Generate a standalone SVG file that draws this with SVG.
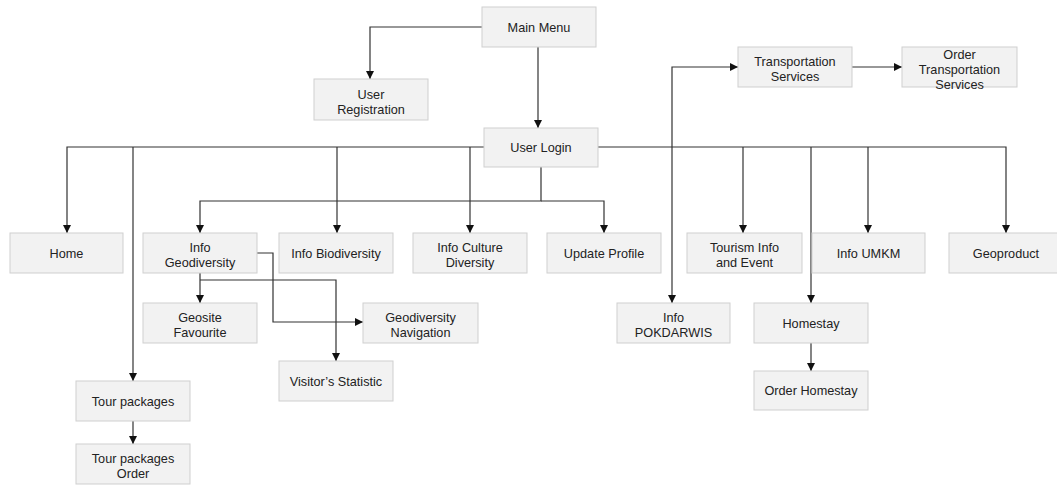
<svg xmlns="http://www.w3.org/2000/svg" width="1057" height="485" viewBox="0 0 1057 485">
<style>
.box{fill:#f2f2f2;stroke:#cfcfcf;stroke-width:1}
.t{font-family:"Liberation Sans",Arial,sans-serif;font-size:12.7px;fill:#222;text-anchor:middle}
.c{fill:none;stroke:#333;stroke-width:1.2}
</style>
<defs>
<marker id="ah" viewBox="0 0 10 10" refX="10" refY="5" markerWidth="8" markerHeight="8" markerUnits="userSpaceOnUse" orient="auto">
<path d="M0,0 L10,5 L0,10 z" fill="#111"/>
</marker>
</defs>
<rect width="1057" height="485" fill="#fff"/>
<g id="connectors">
<path class="c" d="M482,27 H370 V79" marker-end="url(#ah)"/>
<path class="c" d="M538,47 V128" marker-end="url(#ah)"/>
<path class="c" d="M484,147 H67 V233" marker-end="url(#ah)"/>
<path class="c" d="M133,147 V381" marker-end="url(#ah)"/>
<path class="c" d="M337,147 V233" marker-end="url(#ah)"/>
<path class="c" d="M470,147 V233" marker-end="url(#ah)"/>
<path class="c" d="M598,147 H1006 V233" marker-end="url(#ah)"/>
<path class="c" d="M672,147 V303" marker-end="url(#ah)"/>
<path class="c" d="M743,147 V233" marker-end="url(#ah)"/>
<path class="c" d="M811,147 V303" marker-end="url(#ah)"/>
<path class="c" d="M868,147 V233" marker-end="url(#ah)"/>
<path class="c" d="M541,167 V201 H200 V233" marker-end="url(#ah)"/>
<path class="c" d="M541,201 H604 V233" marker-end="url(#ah)"/>
<path class="c" d="M200,273 V303" marker-end="url(#ah)"/>
<path class="c" d="M200,280 H336 V361" marker-end="url(#ah)"/>
<path class="c" d="M257,253 H273 V322 H363" marker-end="url(#ah)"/>
<path class="c" d="M133,421 V444" marker-end="url(#ah)"/>
<path class="c" d="M811,343 V371" marker-end="url(#ah)"/>
<path class="c" d="M672,147 V67 H738" marker-end="url(#ah)"/>
<path class="c" d="M852,67 H902" marker-end="url(#ah)"/>
</g>
<g id="main-menu"><rect class="box" x="482" y="7" width="114" height="40"/><text class="t" x="539" y="31.5">Main Menu</text></g>
<g id="user-registration"><rect class="box" x="314" y="79" width="114" height="41"/><text class="t" x="371" y="98.5">User</text><text class="t" x="371" y="113.5">Registration</text></g>
<g id="user-login"><rect class="box" x="484" y="128" width="114" height="39"/><text class="t" x="541" y="152">User Login</text></g>
<g id="home"><rect class="box" x="10" y="233" width="113" height="40"/><text class="t" x="66.5" y="257.5">Home</text></g>
<g id="info-geodiversity"><rect class="box" x="143" y="233" width="114" height="40"/><text class="t" x="200" y="251.5">Info</text><text class="t" x="200" y="266.5">Geodiversity</text></g>
<g id="info-biodiversity"><rect class="box" x="279" y="233" width="114" height="40"/><text class="t" x="336" y="257.5">Info Biodiversity</text></g>
<g id="info-culture"><rect class="box" x="413" y="233" width="114" height="40"/><text class="t" x="470" y="251.5">Info Culture</text><text class="t" x="470" y="266.5">Diversity</text></g>
<g id="update-profile"><rect class="box" x="547" y="233" width="114" height="40"/><text class="t" x="604" y="257.5">Update Profile</text></g>
<g id="tourism-info"><rect class="box" x="687" y="233" width="115" height="40"/><text class="t" x="744.5" y="251.5">Tourism Info</text><text class="t" x="744.5" y="266.5">and Event</text></g>
<g id="info-umkm"><rect class="box" x="812" y="233" width="113" height="40"/><text class="t" x="868.5" y="257.5">Info UMKM</text></g>
<g id="geoproduct"><rect class="box" x="949" y="233" width="114" height="40"/><text class="t" x="1006" y="257.5">Geoproduct</text></g>
<g id="geosite-favourite"><rect class="box" x="143" y="303" width="114" height="40"/><text class="t" x="200" y="321.5">Geosite</text><text class="t" x="200" y="336.5">Favourite</text></g>
<g id="geodiversity-navigation"><rect class="box" x="363" y="303" width="115" height="40"/><text class="t" x="420.5" y="321.5">Geodiversity</text><text class="t" x="420.5" y="336.5">Navigation</text></g>
<g id="visitors-statistic"><rect class="box" x="279" y="361" width="114" height="40"/><text class="t" x="336" y="385.5">Visitor’s Statistic</text></g>
<g id="tour-packages"><rect class="box" x="76" y="381" width="114" height="40"/><text class="t" x="133" y="405.5">Tour packages</text></g>
<g id="tour-packages-order"><rect class="box" x="76" y="444" width="114" height="40"/><text class="t" x="133" y="462.5">Tour packages</text><text class="t" x="133" y="477.5">Order</text></g>
<g id="info-pokdarwis"><rect class="box" x="617" y="303" width="113" height="40"/><text class="t" x="673.5" y="321.5">Info</text><text class="t" x="673.5" y="336.5">POKDARWIS</text></g>
<g id="homestay"><rect class="box" x="754" y="303" width="114" height="40"/><text class="t" x="811" y="327.5">Homestay</text></g>
<g id="order-homestay"><rect class="box" x="754" y="371" width="114" height="39"/><text class="t" x="811" y="395">Order Homestay</text></g>
<g id="transportation-services"><rect class="box" x="738" y="47" width="114" height="40"/><text class="t" x="795" y="65.5">Transportation</text><text class="t" x="795" y="80.5">Services</text></g>
<g id="order-transportation-services"><rect class="box" x="902" y="47" width="115" height="40"/><text class="t" x="959.5" y="59">Order</text><text class="t" x="959.5" y="74">Transportation</text><text class="t" x="959.5" y="89">Services</text></g>
</svg>
